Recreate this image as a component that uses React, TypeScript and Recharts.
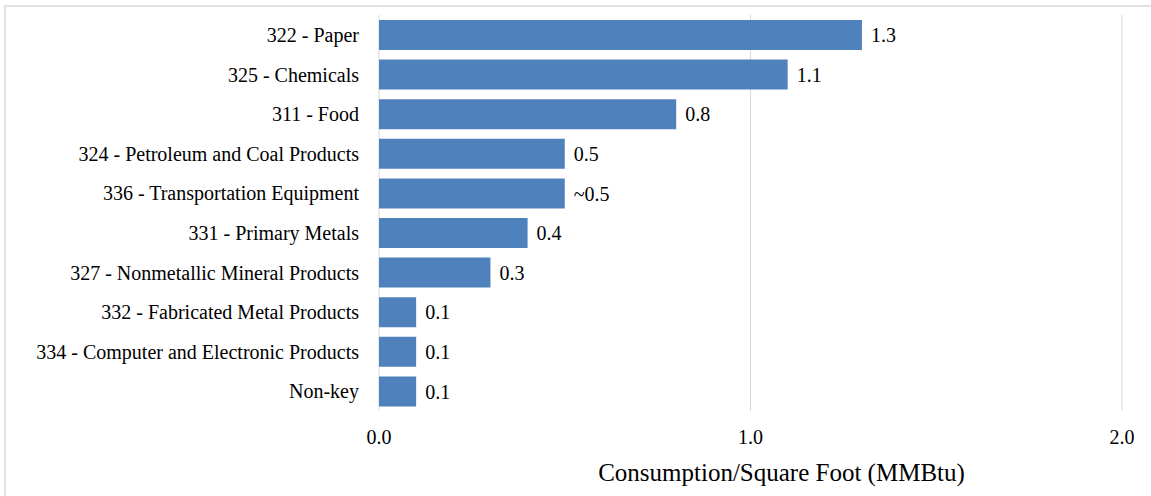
import React from 'react';
import { BarChart, Bar, XAxis, YAxis, CartesianGrid, LabelList, Label } from 'recharts';

const categories = [
  '322 - Paper',
  '325 - Chemicals',
  '311 - Food',
  '324 - Petroleum and Coal Products',
  '336 - Transportation Equipment',
  '331 - Primary Metals',
  '327 - Nonmetallic Mineral Products',
  '332 - Fabricated Metal Products',
  '334 - Computer and Electronic Products',
  'Non-key',
];
const values = [1.3, 1.1, 0.8, 0.5, 0.5, 0.4, 0.3, 0.1, 0.1, 0.1];
const valueLabels = ['1.3', '1.1', '0.8', '0.5', '~0.5', '0.4', '0.3', '0.1', '0.1', '0.1'];
const xTicks = [0, 1, 2];
const axisTitle = 'Consumption/Square Foot (MMBtu)';

const data = categories.map((name, i) => ({ name, value: values[i], label: valueLabels[i] }));

const FONT = 'Liberation Serif';

const textStyle: React.CSSProperties = { fontFamily: FONT, fontSize: 20, fill: '#000' };

const XTick = (props: any) => {
  const { x, y, payload } = props;
  return (
    <text x={x} y={y} dy="0.71em" textAnchor="middle" style={textStyle}>
      {Number(payload.value).toFixed(1)}
    </text>
  );
};

const YTick = (props: any) => {
  const { x, y, payload } = props;
  return (
    <text x={x} y={y} dy="0.355em" textAnchor="end" style={textStyle}>
      {payload.value}
    </text>
  );
};

const ValueLabel = (props: any) => {
  const { x, y, width, height, value } = props;
  return (
    <text x={Number(x) + Number(width) + 9} y={Number(y) + Number(height) / 2} dy="0.355em" textAnchor="start" style={textStyle}>
      {value}
    </text>
  );
};

export default function App() {
  return (
    <div style={{ position: 'absolute', left: 0, top: 0, width: 1151, height: 496, background: '#fff', overflow: 'hidden', fontFamily: FONT }}>
      <div
        style={{
          position: 'absolute',
          left: 4,
          top: 5,
          width: 1200,
          height: 600,
          borderTop: '2px solid #e2e2e2',
          borderLeft: '2px solid #e2e2e2',
          boxSizing: 'border-box',
        }}
      />
      <div style={{ position: 'absolute', left: 0, top: 0 }}>
        <BarChart
          width={1151}
          height={496}
          data={data}
          layout="vertical"
          margin={{ top: 15, right: 29, left: 0, bottom: 5 }}
        >
          <CartesianGrid horizontal={false} vertical={true} stroke="#d9d9d9" strokeWidth={1} />
          <XAxis
            type="number"
            domain={[0, 2]}
            ticks={xTicks}
            axisLine={false}
            tickLine={false}
            tickSize={0}
            tickMargin={19}
            height={80}
            tick={XTick}
          >
            <Label
              value={axisTitle}
              position="insideBottom"
              offset={10}
              dx={31}
              style={{ fontFamily: FONT, fontSize: 25, fill: '#000' }}
            />
          </XAxis>
          <YAxis
            type="category"
            dataKey="name"
            width={379}
            axisLine={false}
            tickLine={false}
            tickSize={0}
            tickMargin={20}
            interval={0}
            tick={YTick}
          />
          <Bar dataKey="value" fill="#4F81BD" barSize={30} isAnimationActive={false}>
            <LabelList dataKey="label" content={ValueLabel} />
          </Bar>
        </BarChart>
      </div>
    </div>
  );
}
